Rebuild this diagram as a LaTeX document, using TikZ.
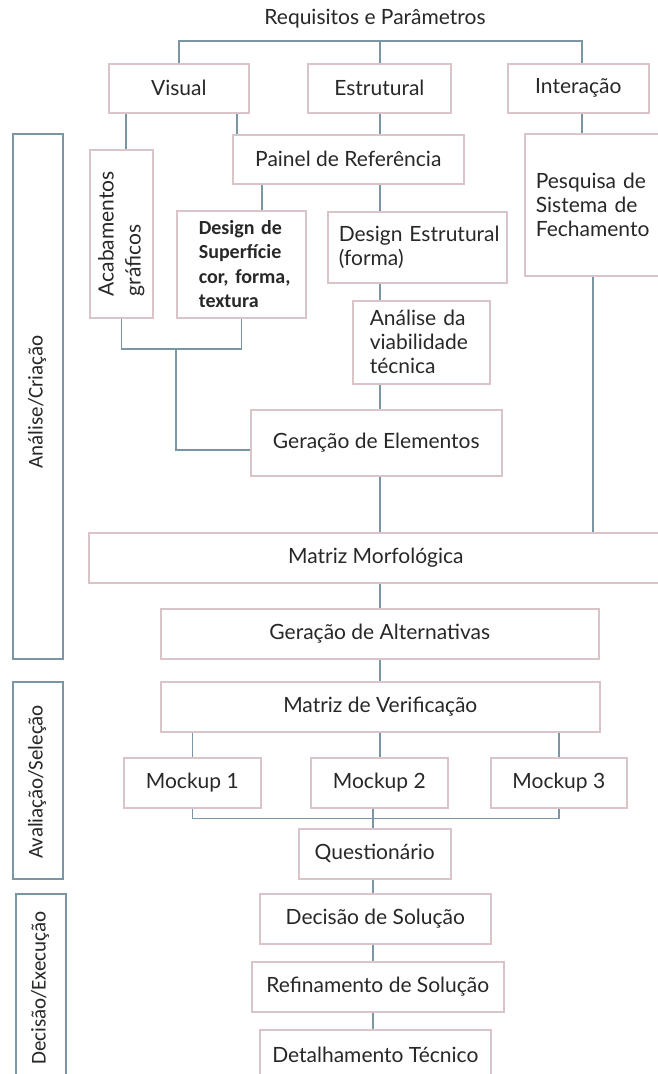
\documentclass[tikz,border=0pt]{standalone}
\usepackage{fontspec}
\setmainfont{Lato}
\newfontfamily\bfcal{Carlito}
\definecolor{boxpink}{RGB}{219,196,200}
\definecolor{linegray}{RGB}{122,150,165}
\definecolor{txt}{RGB}{40,40,40}
\begin{document}
\begin{tikzpicture}[x=1pt,y=-1pt,
 box/.style={draw=boxpink, line width=1.6pt, fill=white, inner sep=0pt, anchor=north west, text=txt, font=\fontsize{21}{24}\selectfont},
 lbox/.style={box, align=left, inner xsep=11pt},
 conn/.style={draw=linegray, line width=1.5pt},
 side/.style={draw=linegray, line width=2pt, anchor=north west, inner sep=0pt},
 sidetext/.style={rotate=90, font=\bfcal\fontsize{21}{24}\selectfont, text=txt},
]
\useasboundingbox (0,0) rectangle (658,1074);
\clip (0,0) rectangle (658,1074);
\fill[white] (0,0) rectangle (658,1074);

% coordinates
\coordinate (topbar) at (0,41);
\coordinate (spine) at (380,0);
\coordinate (rx) at (582,0);
\coordinate (rp) at (593,0);
\coordinate (vA) at (126,0);
\coordinate (vP) at (237,0);
\coordinate (pD) at (262,0);
\coordinate (brk) at (176,349);
\coordinate (sp2) at (373,0);

% title
\node[text=txt, font=\fontsize{21}{24}\selectfont] (title) at (375,19) {Requisitos e Parâmetros};

% top row
\node[box, minimum width=140pt, minimum height=49pt] (vis) at (108,63) {Visual};
\node[box, minimum width=143pt, minimum height=49pt] (est) at (307,63) {Estrutural};
\node[box, minimum width=141pt, minimum height=49pt] (int) at (507,63) {Interação};

% side boxes
\node[side, minimum width=50pt, minimum height=525pt] (side1) at (12,133) {};
\node[sidetext] (side1t) at (37,402) {Análise/Criação};
\node[side, minimum width=50pt, minimum height=197pt] (side2) at (12,681) {};
\node[sidetext] (side2t) at (37,782) {Avaliação/Seleção};
\node[side, minimum width=50pt, minimum height=220pt] (side3) at (15,893) {};
\node[sidetext] (side3t) at (40,988) {Decisão/Execução};

% analysis boxes
\node[box, minimum width=63pt, minimum height=168pt] (acab) at (89,149) {};
\node[rotate=90, align=left, text=txt, font=\fontsize{21}{27}\selectfont] (acabt) at (acab.center) {Acabamentos\\gráficos};
\node[box, minimum width=231pt, minimum height=49pt] (pan) at (232,134) {Painel de Referência};
\node[box, align=left, inner xsep=22pt, text width=85pt, minimum height=107pt, font=\bfcal\bfseries\fontsize{20}{24.5}\selectfont] (dds) at (176,210) {\mbox{Design de}\\\mbox{Superfície}\\\mbox{cor, forma,}\\\mbox{textura}};
\node[lbox, text width=157pt, minimum height=71pt] (de) at (327,211) {\mbox{Design Estrutural}\\(forma)};
\node[box, align=left, inner xsep=17pt, text width=103pt, minimum height=83pt] (ana) at (352,300) {Análise da\\viabilidade\\técnica};
\node[lbox, text width=116pt, minimum height=142pt] (pes) at (524,133) {Pesquisa de\\Sistema de\\Fechamento};
\node[box, minimum width=251pt, minimum height=66pt] (ge) at (250,409) {Geração de Elementos};
\node[box, minimum width=574pt, minimum height=50pt] (mm) at (88,532) {Matriz Morfológica};
\node[box, minimum width=438pt, minimum height=50pt] (ga) at (160,608) {Geração de Alternativas};

% evaluation
\node[box, minimum width=439pt, minimum height=50pt] (mv) at (160,681) {Matriz de Verificação};
\node[box, minimum width=137pt, minimum height=50pt] (mk1) at (123,757) {Mockup 1};
\node[box, minimum width=137pt, minimum height=50pt] (mk2) at (310,757) {Mockup 2};
\node[box, minimum width=136pt, minimum height=50pt] (mk3) at (490,757) {Mockup 3};
\node[box, minimum width=152pt, minimum height=50pt] (q) at (298,828) {Questionário};

% decision
\node[box, minimum width=231pt, minimum height=50pt] (ds) at (259,893) {Decisão de Solução};
\node[box, minimum width=252pt, minimum height=50pt] (rs) at (251,961) {Refinamento de Solução};
\node[box, minimum width=231pt, minimum height=50pt] (dt) at (259,1029) {Detalhamento Técnico};

% connectors
\draw[conn] (vis.north) -- (vis.north |- topbar) -- (rx |- topbar) -- (rx |- int.north);
\draw[conn] (spine |- est.north) -- (spine |- topbar);
\draw[conn] (rx |- int.south) -- (rx |- pes.north);
\draw[conn] (vA |- vis.south) -- (vA |- acab.north);
\draw[conn] (vP |- vis.south) -- (vP |- pan.north);
\draw[conn] (spine |- est.south) -- (spine |- pan.north);
\draw[conn] (pD |- pan.south) -- (pD |- dds.north);
\draw[conn] (spine |- pan.south) -- (spine |- de.north);
\draw[conn] (spine |- de.south) -- (spine |- ana.north);
\draw[conn] (spine |- ana.south) -- (spine |- ge.north);
\draw[conn] (acab.south) -- (acab.south |- brk) -- (dds.south |- brk) -- (dds.south);
\draw[conn] (brk) |- ([yshift=-7pt]ge.west);
\draw[conn] (spine |- ge.south) -- (spine |- mm.north);
\draw[conn] (rp |- pes.south) -- (rp |- mm.north);
\draw[conn] (spine |- mm.south) -- (spine |- ga.north);
\draw[conn] (spine |- ga.south) -- (spine |- mv.north);
\draw[conn] (mk1.north |- mv.south) -- (mk1.north);
\draw[conn] (spine |- mv.south) -- (spine |- mk2.north);
\draw[conn] (mk3.north |- mv.south) -- (mk3.north);
\draw[conn] (mk1.south) -- ++(0,10) -| (mk3.south);
\draw[conn] (sp2 |- mk2.south) -- (sp2 |- q.north);
\draw[conn] (sp2 |- q.south) -- (sp2 |- ds.north);
\draw[conn] (sp2 |- ds.south) -- (sp2 |- rs.north);
\draw[conn] (sp2 |- rs.south) -- (sp2 |- dt.north);
\end{tikzpicture}
\end{document}
